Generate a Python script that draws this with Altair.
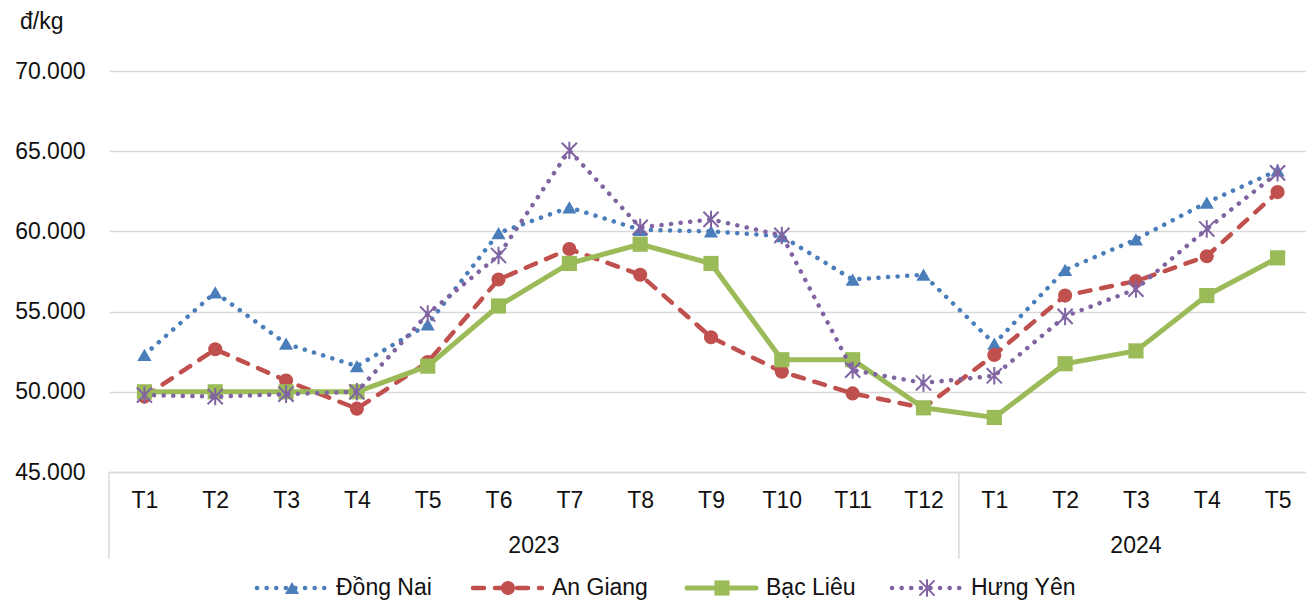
import altair as alt
import pandas as pd

months = ["T1", "T2", "T3", "T4", "T5", "T6", "T7", "T8", "T9", "T10", "T11", "T12",
          "T1", "T2", "T3", "T4", "T5"]
years = ["2023"] * 12 + ["2024"] * 5

series_names = ["Đồng Nai", "An Giang", "Bạc Liêu", "Hưng Yên"]
dong_nai = [52300, 56200, 53000, 51600, 54200, 59900, 61500, 60100, 60000, 59700, 57000, 57300,
            53000, 57600, 59500, 61800, 63800]
an_giang = [49700, 52650, 50700, 48950, 51850, 57000, 58900, 57300, 53400, 51250, 49900, 49000,
            52300, 56000, 56900, 58450, 62450]
bac_lieu = [50000, 50000, 50000, 50000, 51600, 55350, 58000, 59200, 58000, 52000, 52000, 49000,
            48400, 51750, 52550, 56000, 58350]
hung_yen = [49800, 49700, 49850, 50000, 54850, 58500, 65050, 60250, 60750, 59750, 51350, 50550,
            51000, 54700, 56400, 60150, 63650]
values = [dong_nai, an_giang, bac_lieu, hung_yen]

colors = ["#4A7EBB", "#C0504D", "#9BBB59", "#8064A2"]
ASTER = "M-1,-1L1,1M-1,1L1,-1M0,-1.15L0,1.15"
shapes = ["triangle-up", "circle", "square", ASTER]
sizes = [200, 200, 230, 230]
dashes = [[0.1, 9.5], [11, 11], None, [0.1, 9.5]]
widths = [4.5, 4.5, 5, 4.5]

FONT = "Liberation Sans"
FS = 23
TXT = "#111111"
GRID = "#d9d9d9"
W, H = 1197, 401
XR = 1204  # full category range; right part falls at the page edge

rows = []
for name, vals in zip(series_names, values):
    for i, v in enumerate(vals):
        rows.append({"idx": i, "series": name, "value": v})
df = pd.DataFrame(rows)

label_expr = "[" + ",".join("'" + m + "'" for m in months) + "][datum.value]"

xscale = alt.Scale(domain=[-0.5, len(months) - 0.5], range=[0, XR], nice=False, zero=False)
yscale = alt.Scale(domain=[45000, 70000], nice=False, zero=False)

xaxis = alt.Axis(values=list(range(len(months))), labelExpr=label_expr, title=None,
                 grid=False, ticks=False, domainColor=GRID, domainWidth=1.5,
                 labelFont=FONT, labelFontSize=FS, labelColor=TXT, labelPadding=28,
                 labelBaseline="middle", labelAngle=0)
yaxis = alt.Axis(values=list(range(45000, 70001, 5000)),
                 labelExpr="replace(format(datum.value, ','), ',', '.')",
                 title=None, grid=True, gridColor=GRID, gridWidth=1.5, domain=False,
                 ticks=False, labelFont=FONT, labelFontSize=FS, labelColor=TXT,
                 labelPadding=24)

base = alt.Chart(df)

# axes holder
axes_layer = base.mark_line(opacity=0).encode(
    x=alt.X("idx:Q", scale=xscale, axis=xaxis),
    y=alt.Y("value:Q", scale=yscale, axis=yaxis),
    detail="series:N",
)

layers = [axes_layer]
for k, name in enumerate(series_names):
    sub = base.transform_filter(alt.datum.series == name)
    line_kwargs = dict(color=colors[k], strokeWidth=widths[k], strokeCap="round",
                       strokeJoin="round")
    if dashes[k] is not None:
        line_kwargs["strokeDash"] = dashes[k]
    layers.append(sub.mark_line(**line_kwargs).encode(
        x=alt.X("idx:Q", scale=xscale), y=alt.Y("value:Q", scale=yscale)))
    if shapes[k] == ASTER:
        pt = sub.mark_point(shape=ASTER, size=sizes[k], stroke=colors[k], strokeWidth=2,
                            filled=False, opacity=1)
    else:
        pt = sub.mark_point(shape=shapes[k], size=sizes[k], fill=colors[k], filled=True,
                            opacity=1, strokeWidth=0)
    layers.append(pt.encode(x=alt.X("idx:Q", scale=xscale), y=alt.Y("value:Q", scale=yscale)))

# year group labels and separators
year_df = pd.DataFrame({"year": years, "idx": list(range(len(years)))})
year_centers = year_df.groupby("year", as_index=False)["idx"].mean()
layers.append(alt.Chart(year_centers).mark_text(font=FONT, fontSize=FS, color=TXT,
                                                baseline="middle").encode(
    x=alt.X("idx:Q", scale=xscale), y=alt.value(H + 74), text="year:N"))
bounds = year_df.groupby("year", as_index=False)["idx"].min()
bounds["b"] = bounds["idx"] - 0.5
layers.append(alt.Chart(bounds).mark_rule(color=GRID, strokeWidth=1.5).encode(
    x=alt.X("b:Q", scale=xscale), y=alt.value(H), y2=alt.value(H + 87)))

# unit label
layers.append(alt.Chart(pd.DataFrame({"t": ["đ/kg"]})).mark_text(
    font=FONT, fontSize=FS, color=TXT, align="left", baseline="middle").encode(
    x=alt.value(-89), y=alt.value(-49), text="t:N"))

# manual legend
leg_y = 517
leg_x0 = [148, 364, 578, 783]
for k, name in enumerate(series_names):
    x0 = leg_x0[k]
    lk = dict(color=colors[k], strokeWidth=widths[k], strokeCap="round")
    if dashes[k] is not None:
        lk["strokeDash"] = dashes[k]
    one = alt.Chart(pd.DataFrame({"n": [name]}))
    layers.append(one.mark_rule(**lk).encode(
        x=alt.value(x0), x2=alt.value(x0 + 69), y=alt.value(leg_y)))
    if shapes[k] == ASTER:
        p = one.mark_point(shape=ASTER, size=sizes[k], stroke=colors[k], strokeWidth=2,
                           filled=False, opacity=1)
    else:
        p = one.mark_point(shape=shapes[k], size=sizes[k], fill=colors[k], filled=True,
                           opacity=1, strokeWidth=0)
    layers.append(p.encode(x=alt.value(x0 + 35), y=alt.value(leg_y)))
    layers.append(one.mark_text(font=FONT, fontSize=FS, color=TXT, align="left",
                                baseline="middle").encode(
        x=alt.value(x0 + 79), y=alt.value(leg_y), text="n:N"))

chart = alt.layer(*layers).properties(
    width=W, height=H,
    autosize=alt.AutoSizeParams(type="none"),
    padding={"left": 101, "top": 63, "right": 0, "bottom": 128},
).configure_view(stroke=None)

chart.save("out.html", embed_options={"renderer": "svg", "actions": False})
